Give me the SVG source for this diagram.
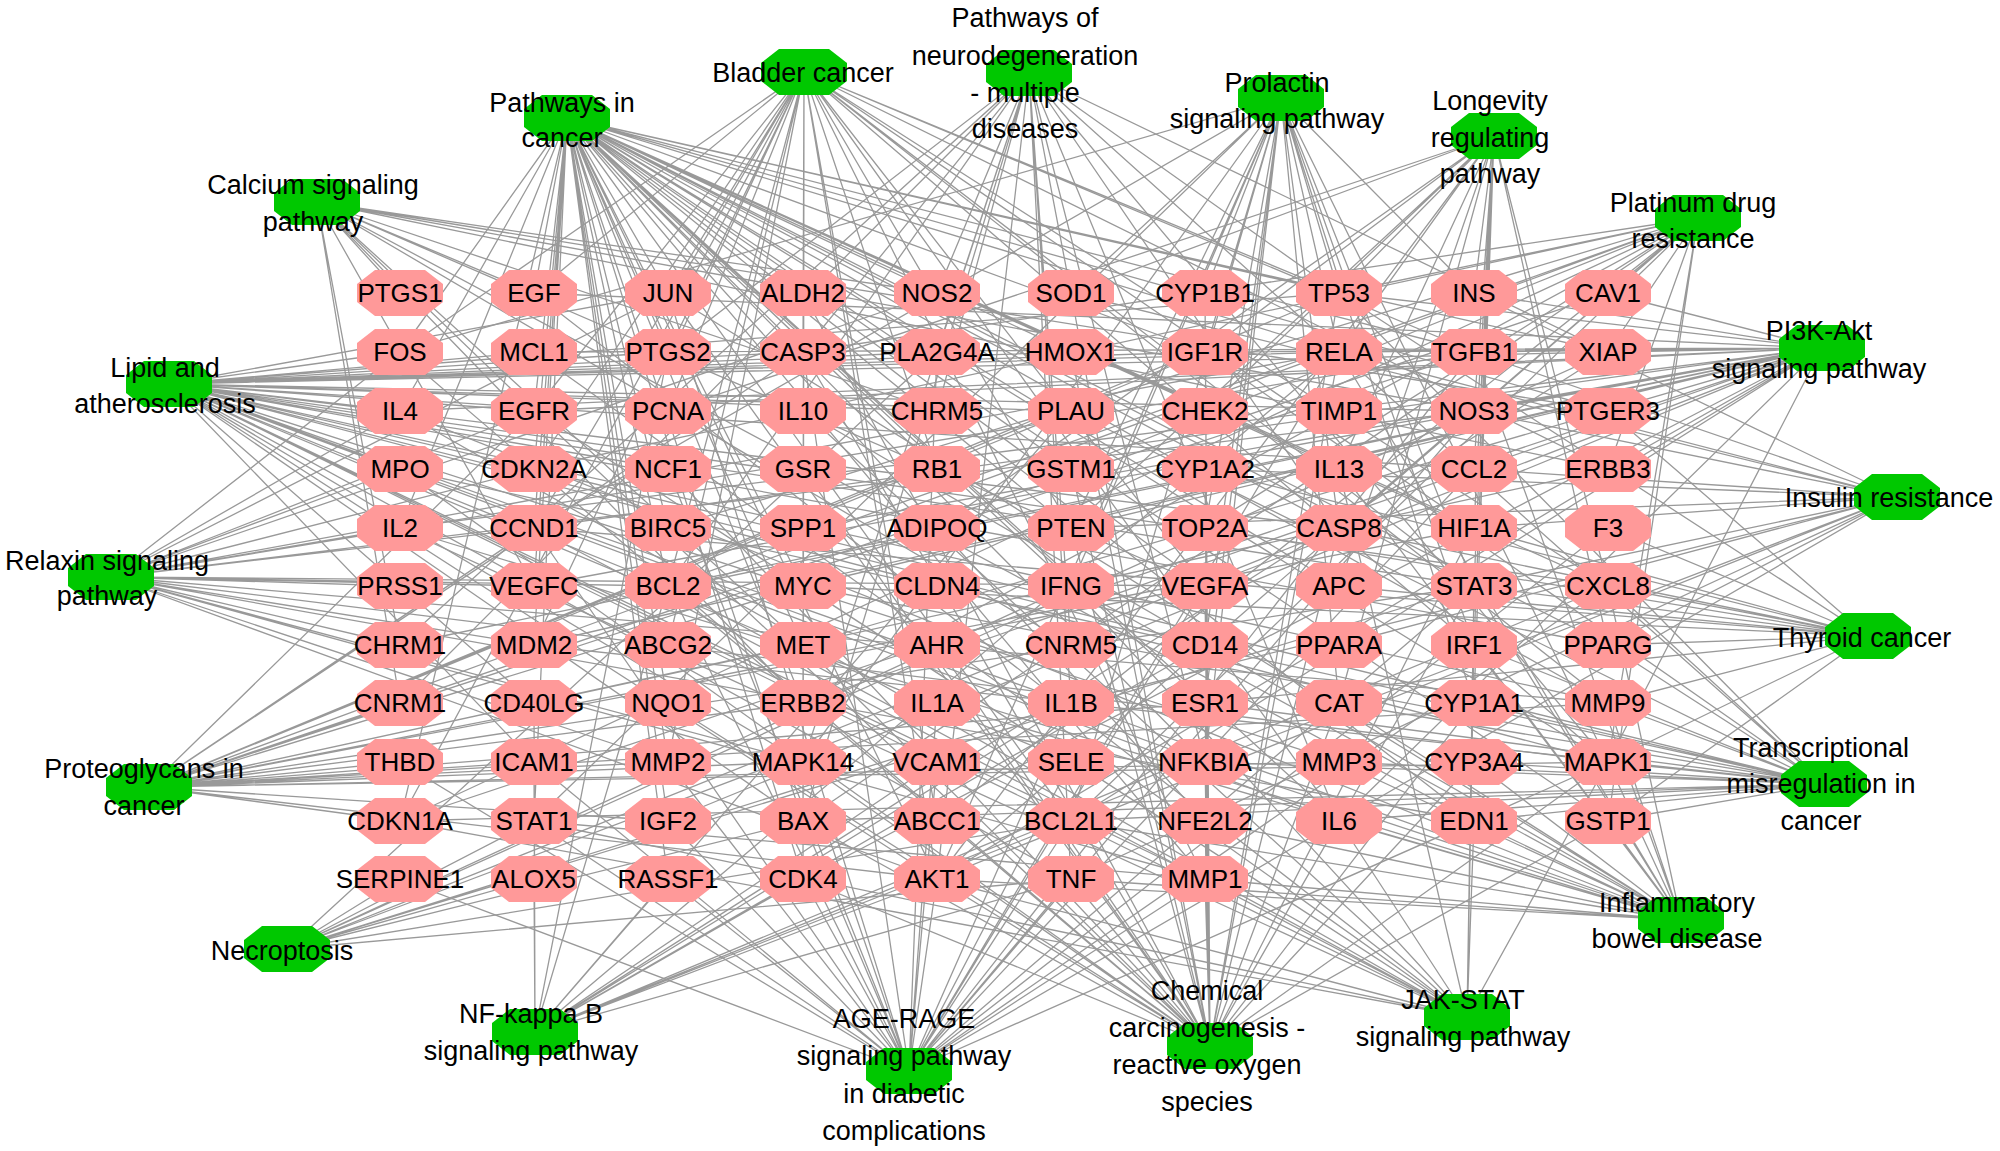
<svg xmlns="http://www.w3.org/2000/svg" xmlns:xlink="http://www.w3.org/1999/xlink" width="2000" height="1151" viewBox="0 0 2000 1151">
<style>
.g{fill:#ff9999}
.p{fill:#00c800}
text{font-family:"Liberation Sans",Arial,sans-serif;font-size:26px;text-anchor:middle;fill:#000}
text.pl{font-size:27px}
#edges path{stroke:#999;stroke-width:1.3;fill:none}
</style>
<defs>
<polygon id="oct" points="-25,-23 25,-23 43,-9 43,9 25,23 -25,23 -43,9 -43,-9"/>
</defs>
<rect width="2000" height="1151" fill="#fff"/>
<g id="edges">
<path id="e-blad" d="M804 72 534 293M804 72 534 411M804 72 803 703M804 72 803 586M804 72 534 528M804 72 803 879M804 72 937 469M804 72 1339 293M804 72 534 645M804 72 400 821M804 72 534 469M804 72 1608 762M804 72 1205 586M804 72 1205 879M804 72 668 762M804 72 1608 703M804 72 1608 586M804 72 668 411M804 72 668 586M804 72 803 821M804 72 803 352M804 72 1071 528M804 72 937 879M804 72 668 293M804 72 400 352M804 72 1474 586M804 72 1339 821M804 72 1474 528M804 72 1474 352M804 72 668 352M804 72 1608 469M804 72 668 645M804 72 937 821"/>
<path id="e-neuro" d="M1029 73 803 352M1029 73 1339 528M1029 73 803 821M1029 73 668 586M1029 73 1071 879M1029 73 1071 703M1029 73 1339 821M1029 73 1071 293M1029 73 668 352M1029 73 1339 293M1029 73 1339 352M1029 73 1205 762M1029 73 1608 762M1029 73 803 762M1029 73 937 879M1029 73 400 645M1029 73 937 411M1029 73 400 703M1029 73 1071 645M1029 73 1608 352M1029 73 937 293M1029 73 937 352"/>
<path id="e-prol" d="M1281 98 534 821M1281 98 1474 586M1281 98 1608 762M1281 98 803 762M1281 98 937 879M1281 98 534 528M1281 98 1205 703M1281 98 400 352M1281 98 1474 645M1281 98 1071 293M1281 98 1339 293M1281 98 1339 352M1281 98 1205 352M1281 98 1205 293M1281 98 1205 528M1281 98 1339 528M1281 98 1205 762M1281 98 1205 645M1281 98 1071 821M1281 98 1071 586M1281 98 1071 528M1281 98 1474 703M1281 98 1339 703M1281 98 1474 293"/>
<path id="e-long" d="M1494 136 1474 293M1494 136 1205 352M1494 136 937 879M1494 136 1071 293M1494 136 1339 703M1494 136 937 528M1494 136 1339 352M1494 136 1339 293M1494 136 1608 645M1494 136 1474 411M1494 136 1071 528M1494 136 1474 528M1494 136 1474 586M1494 136 1474 469M1494 136 1339 469M1494 136 1339 586M1494 136 1608 586M1494 136 1474 645M1494 136 1474 703M1494 136 1205 411M1494 136 668 411"/>
<path id="e-plat" d="M1698 218 1339 293M1698 218 400 821M1698 218 803 821M1698 218 668 586M1698 218 1071 821M1698 218 1608 352M1698 218 668 528M1698 218 803 352M1698 218 1339 528M1698 218 937 879M1698 218 1608 762M1698 218 803 703M1698 218 1071 469M1698 218 1608 821M1698 218 937 821M1698 218 1205 528M1698 218 534 645M1698 218 534 469M1698 218 1608 469M1698 218 1608 293"/>
<path id="e-pi3k" d="M1822 348 534 293M1822 348 534 411M1822 348 803 703M1822 348 1608 469M1822 348 1205 352M1822 348 668 821M1822 348 1474 293M1822 348 803 645M1822 348 1205 586M1822 348 534 586M1822 348 803 528M1822 348 937 879M1822 348 1071 528M1822 348 534 352M1822 348 668 586M1822 348 1071 821M1822 348 803 586M1822 348 534 528M1822 348 803 879M1822 348 400 821M1822 348 1339 293M1822 348 534 645M1822 348 1339 352M1822 348 400 528M1822 348 400 411M1822 348 1339 821M1822 348 1608 762M1822 348 1474 411M1822 348 400 645M1822 348 1608 293M1822 348 1608 352M1822 348 1474 352"/>
<path id="e-insr" d="M1897 497 1474 293M1897 497 1071 879M1897 497 1339 821M1897 497 937 879M1897 497 1071 528M1897 497 1339 352M1897 497 1205 762M1897 497 1474 586M1897 497 1474 411M1897 497 1339 645M1897 497 1608 645M1897 497 1474 528M1897 497 1474 469M1897 497 1474 352M1897 497 1071 703M1897 497 1205 469M1897 497 1071 293"/>
<path id="e-thyr" d="M1868 636 1608 645M1868 636 1339 293M1868 636 803 586M1868 636 534 528M1868 636 1608 762M1868 636 1608 586M1868 636 1608 528M1868 636 1474 586M1868 636 1608 703M1868 636 1339 586M1868 636 1339 528M1868 636 1474 528M1868 636 1608 411M1868 636 1205 469M1868 636 1205 703M1868 636 1205 528M1868 636 1608 821"/>
<path id="e-trans" d="M1824 784 803 586M1824 784 400 821M1824 784 534 469M1824 784 534 645M1824 784 1339 293M1824 784 1071 821M1824 784 1071 411M1824 784 1339 762M1824 784 1608 703M1824 784 1339 821M1824 784 1608 586M1824 784 1608 645M1824 784 1205 352M1824 784 803 821M1824 784 400 469M1824 784 1339 352M1824 784 1474 703M1824 784 1474 762M1824 784 1608 762M1824 784 1608 821M1824 784 1474 821M1824 784 1474 645M1824 784 1339 703M1824 784 1205 703M1824 784 1205 762"/>
<path id="e-ibd" d="M1681 920 400 528M1681 920 400 411M1681 920 1339 821M1681 920 803 411M1681 920 1339 469M1681 920 937 703M1681 920 1071 703M1681 920 1071 879M1681 920 1071 586M1681 920 1474 352M1681 920 534 821M1681 920 1474 586M1681 920 1339 352M1681 920 668 293M1681 920 1205 762M1681 920 1608 762M1681 920 1608 821M1681 920 1474 821M1681 920 1608 703M1681 920 1339 762M1681 920 1474 762M1681 920 1205 879M1681 920 1071 821M1681 920 937 879M1681 920 1205 821M1681 920 1474 645M1681 920 1339 703M1681 920 1608 586"/>
<path id="e-jak" d="M1467 1017 400 528M1467 1017 400 411M1467 1017 1339 821M1467 1017 803 411M1467 1017 1339 469M1467 1017 1071 586M1467 1017 534 821M1467 1017 1474 586M1467 1017 1474 645M1467 1017 803 586M1467 1017 534 528M1467 1017 668 586M1467 1017 1071 821M1467 1017 534 352M1467 1017 400 821M1467 1017 534 293M1467 1017 534 411M1467 1017 937 879M1467 1017 1608 762M1467 1017 1474 821"/>
<path id="e-chem" d="M1210 1046 1474 703M1210 1046 1205 469M1210 1046 1205 293M1210 1046 1474 762M1210 1046 937 645M1210 1046 668 703M1210 1046 1205 821M1210 1046 1071 352M1210 1046 1071 469M1210 1046 1608 821M1210 1046 1071 293M1210 1046 1339 703M1210 1046 668 469M1210 1046 1474 528M1210 1046 1205 586M1210 1046 534 411M1210 1046 1608 762M1210 1046 803 762M1210 1046 668 293M1210 1046 400 352M1210 1046 937 879M1210 1046 1071 528M1210 1046 1339 352M1210 1046 1205 762M1210 1046 1474 586M1210 1046 803 821M1210 1046 668 586M1210 1046 803 352M1210 1046 1339 528M1210 1046 1339 293M1210 1046 803 469M1210 1046 400 469M1210 1046 803 293M1210 1046 1205 703M1210 1046 1205 879M1210 1046 803 879M1210 1046 1071 879M1210 1046 1339 821M1210 1046 803 645"/>
<path id="e-age" d="M909 1071 937 703M909 1071 1071 703M909 1071 1339 821M909 1071 1071 879M909 1071 1608 586M909 1071 1474 469M909 1071 534 762M909 1071 937 762M909 1071 1071 762M909 1071 1205 586M909 1071 1474 352M909 1071 1474 411M909 1071 1474 821M909 1071 1608 528M909 1071 400 879M909 1071 668 293M909 1071 1608 762M909 1071 803 762M909 1071 937 879M909 1071 1339 352M909 1071 534 821M909 1071 1474 586M909 1071 803 821M909 1071 668 586M909 1071 803 352M909 1071 668 762M909 1071 534 528M909 1071 668 469M909 1071 400 762M909 1071 1205 879M909 1071 803 879M909 1071 937 352M909 1071 1071 821M909 1071 668 821M909 1071 668 879"/>
<path id="e-nfkb" d="M535 1032 1071 879M535 1032 1071 703M535 1032 1339 352M535 1032 1205 762M535 1032 668 586M535 1032 1071 821M535 1032 1608 352M535 1032 668 352M535 1032 534 762M535 1032 937 762M535 1032 1608 586M535 1032 1205 645M535 1032 534 703M535 1032 1071 411M535 1032 534 879M535 1032 668 879M535 1032 803 879M535 1032 937 879"/>
<path id="e-necro" d="M287 949 400 879M287 949 534 879M287 949 534 821M287 949 803 821M287 949 1071 821M287 949 1071 879M287 949 1071 703M287 949 937 703M287 949 1474 586M287 949 1071 586M287 949 1339 528M287 949 1608 352M287 949 937 352"/>
<path id="e-proteo" d="M149 787 534 411M149 787 803 703M149 787 1608 469M149 787 803 645M149 787 1205 352M149 787 668 821M149 787 1205 586M149 787 1474 352M149 787 803 586M149 787 400 821M149 787 803 352M149 787 1339 293M149 787 534 645M149 787 1071 411M149 787 1608 293M149 787 668 762M149 787 1608 703M149 787 1205 703M149 787 937 879M149 787 1608 762M149 787 803 762M149 787 1474 586M149 787 1474 528M149 787 534 528M149 787 400 762M149 787 400 703M149 787 534 762M149 787 1339 762"/>
<path id="e-relax" d="M111 577 534 411M111 577 937 293M111 577 1474 411M111 577 1205 879M111 577 668 762M111 577 1608 703M111 577 668 293M111 577 400 352M111 577 1608 762M111 577 803 762M111 577 937 879M111 577 1339 352M111 577 1474 352M111 577 1205 586M111 577 1474 821M111 577 534 586M111 577 400 586M111 577 400 528M111 577 400 645M111 577 400 469M111 577 400 411M111 577 668 586M111 577 534 469M111 577 534 528M111 577 534 645"/>
<path id="e-lipid" d="M169 384 1071 703M169 384 1339 821M169 384 1071 879M169 384 1608 586M169 384 1474 469M169 384 534 762M169 384 937 762M169 384 1071 762M169 384 1205 879M169 384 1339 762M169 384 1608 703M169 384 1205 762M169 384 1339 352M169 384 668 293M169 384 400 352M169 384 1608 762M169 384 803 762M169 384 937 879M169 384 803 352M169 384 1339 528M169 384 803 821M169 384 668 586M169 384 1071 821M169 384 1205 645M169 384 534 703M169 384 668 469M169 384 400 469M169 384 1474 411M169 384 1608 645M169 384 1474 586M169 384 1339 293M169 384 400 411M169 384 534 411M169 384 534 352M169 384 668 352M169 384 937 352M169 384 1071 352M169 384 1205 352M169 384 1608 352M169 384 937 411M169 384 1071 411M169 384 534 469"/>
<path id="e-calc" d="M317 202 400 645M317 202 937 411M317 202 937 293M317 202 1474 411M317 202 534 293M317 202 534 411M317 202 803 703M317 202 1608 469M317 202 1608 411M317 202 803 645M317 202 1205 586M317 202 534 586M317 202 1474 821M317 202 400 293M317 202 400 703M317 202 1071 645"/>
<path id="e-pic" d="M567 118 668 352M567 118 534 293M567 118 534 411M567 118 803 703M567 118 668 293M567 118 400 352M567 118 1339 293M567 118 534 645M567 118 400 821M567 118 534 469M567 118 937 469M567 118 534 528M567 118 803 879M567 118 803 586M567 118 668 586M567 118 1071 821M567 118 668 528M567 118 1608 352M567 118 803 352M567 118 1339 528M567 118 803 821M567 118 937 879M567 118 1071 528M567 118 1608 762M567 118 534 821M567 118 1474 586M567 118 1339 821M567 118 400 528M567 118 400 411M567 118 1339 469M567 118 1071 586M567 118 1205 586M567 118 534 586M567 118 1474 528M567 118 803 645M567 118 1205 352M567 118 668 821M567 118 1474 352M567 118 1205 762M567 118 1339 352M567 118 1205 879M567 118 668 762M567 118 1608 703M567 118 1608 586M567 118 1339 586M567 118 1205 703M567 118 1608 645M567 118 937 293M567 118 1071 352M567 118 668 703M567 118 1071 469M567 118 1608 821M567 118 1205 821M567 118 1608 411M567 118 668 879M567 118 1474 821"/>
</g>
<g id="pathways">
<g id="p-bladder"><use href="#oct" x="804" y="72" class="p"/><text class="pl" x="803" y="82">Bladder cancer</text></g>
<g id="p-neuro"><use href="#oct" x="1029" y="73" class="p"/><text class="pl"><tspan x="1025" y="27">Pathways of</tspan><tspan x="1025" y="65">neurodegeneration</tspan><tspan x="1025" y="102">- multiple</tspan><tspan x="1025" y="138">diseases</tspan></text></g>
<g id="p-prolactin"><use href="#oct" x="1281" y="98" class="p"/><text class="pl"><tspan x="1277" y="92">Prolactin</tspan><tspan x="1277" y="128">signaling pathway</tspan></text></g>
<g id="p-longevity"><use href="#oct" x="1494" y="136" class="p"/><text class="pl"><tspan x="1490" y="110">Longevity</tspan><tspan x="1490" y="147">regulating</tspan><tspan x="1490" y="183">pathway</tspan></text></g>
<g id="p-platinum"><use href="#oct" x="1698" y="218" class="p"/><text class="pl"><tspan x="1693" y="212">Platinum drug</tspan><tspan x="1693" y="248">resistance</tspan></text></g>
<g id="p-pi3k"><use href="#oct" x="1822" y="348" class="p"/><text class="pl"><tspan x="1819" y="340">PI3K-Akt</tspan><tspan x="1819" y="378">signaling pathway</tspan></text></g>
<g id="p-insulin"><use href="#oct" x="1897" y="497" class="p"/><text class="pl" x="1889" y="507">Insulin resistance</text></g>
<g id="p-thyroid"><use href="#oct" x="1868" y="636" class="p"/><text class="pl" x="1862" y="647">Thyroid cancer</text></g>
<g id="p-transcriptional"><use href="#oct" x="1824" y="784" class="p"/><text class="pl"><tspan x="1821" y="757">Transcriptional</tspan><tspan x="1821" y="793">misregulation in</tspan><tspan x="1821" y="830">cancer</tspan></text></g>
<g id="p-ibd"><use href="#oct" x="1681" y="920" class="p"/><text class="pl"><tspan x="1677" y="912">Inflammatory</tspan><tspan x="1677" y="948">bowel disease</tspan></text></g>
<g id="p-jakstat"><use href="#oct" x="1467" y="1017" class="p"/><text class="pl"><tspan x="1463" y="1009">JAK-STAT</tspan><tspan x="1463" y="1046">signaling pathway</tspan></text></g>
<g id="p-chemical"><use href="#oct" x="1210" y="1046" class="p"/><text class="pl"><tspan x="1207" y="1000">Chemical</tspan><tspan x="1207" y="1037">carcinogenesis -</tspan><tspan x="1207" y="1074">reactive oxygen</tspan><tspan x="1207" y="1111">species</tspan></text></g>
<g id="p-agerage"><use href="#oct" x="909" y="1071" class="p"/><text class="pl"><tspan x="904" y="1028">AGE-RAGE</tspan><tspan x="904" y="1065">signaling pathway</tspan><tspan x="904" y="1103">in diabetic</tspan><tspan x="904" y="1140">complications</tspan></text></g>
<g id="p-nfkb"><use href="#oct" x="535" y="1032" class="p"/><text class="pl"><tspan x="531" y="1023">NF-kappa B</tspan><tspan x="531" y="1060">signaling pathway</tspan></text></g>
<g id="p-necroptosis"><use href="#oct" x="287" y="949" class="p"/><text class="pl" x="282" y="960">Necroptosis</text></g>
<g id="p-proteoglycans"><use href="#oct" x="149" y="787" class="p"/><text class="pl"><tspan x="144" y="778">Proteoglycans in</tspan><tspan x="144" y="815">cancer</tspan></text></g>
<g id="p-relaxin"><use href="#oct" x="111" y="577" class="p"/><text class="pl"><tspan x="107" y="570">Relaxin signaling</tspan><tspan x="107" y="605">pathway</tspan></text></g>
<g id="p-lipid"><use href="#oct" x="169" y="384" class="p"/><text class="pl"><tspan x="165" y="377">Lipid and</tspan><tspan x="165" y="413">atherosclerosis</tspan></text></g>
<g id="p-calcium"><use href="#oct" x="317" y="202" class="p"/><text class="pl"><tspan x="313" y="194">Calcium signaling</tspan><tspan x="313" y="231">pathway</tspan></text></g>
<g id="p-cancer"><use href="#oct" x="567" y="118" class="p"/><text class="pl"><tspan x="562" y="112">Pathways in</tspan><tspan x="562" y="147">cancer</tspan></text></g>
</g>
<g id="genes">
<g id="PTGS1"><use href="#oct" x="400" y="293" class="g"/><text x="400" y="302">PTGS1</text></g>
<g id="EGF"><use href="#oct" x="534" y="293" class="g"/><text x="534" y="302">EGF</text></g>
<g id="JUN"><use href="#oct" x="668" y="293" class="g"/><text x="668" y="302">JUN</text></g>
<g id="ALDH2"><use href="#oct" x="803" y="293" class="g"/><text x="803" y="302">ALDH2</text></g>
<g id="NOS2"><use href="#oct" x="937" y="293" class="g"/><text x="937" y="302">NOS2</text></g>
<g id="SOD1"><use href="#oct" x="1071" y="293" class="g"/><text x="1071" y="302">SOD1</text></g>
<g id="CYP1B1"><use href="#oct" x="1205" y="293" class="g"/><text x="1205" y="302">CYP1B1</text></g>
<g id="TP53"><use href="#oct" x="1339" y="293" class="g"/><text x="1339" y="302">TP53</text></g>
<g id="INS"><use href="#oct" x="1474" y="293" class="g"/><text x="1474" y="302">INS</text></g>
<g id="CAV1"><use href="#oct" x="1608" y="293" class="g"/><text x="1608" y="302">CAV1</text></g>
<g id="FOS"><use href="#oct" x="400" y="352" class="g"/><text x="400" y="361">FOS</text></g>
<g id="MCL1"><use href="#oct" x="534" y="352" class="g"/><text x="534" y="361">MCL1</text></g>
<g id="PTGS2"><use href="#oct" x="668" y="352" class="g"/><text x="668" y="361">PTGS2</text></g>
<g id="CASP3"><use href="#oct" x="803" y="352" class="g"/><text x="803" y="361">CASP3</text></g>
<g id="PLA2G4A"><use href="#oct" x="937" y="352" class="g"/><text x="937" y="361">PLA2G4A</text></g>
<g id="HMOX1"><use href="#oct" x="1071" y="352" class="g"/><text x="1071" y="361">HMOX1</text></g>
<g id="IGF1R"><use href="#oct" x="1205" y="352" class="g"/><text x="1205" y="361">IGF1R</text></g>
<g id="RELA"><use href="#oct" x="1339" y="352" class="g"/><text x="1339" y="361">RELA</text></g>
<g id="TGFB1"><use href="#oct" x="1474" y="352" class="g"/><text x="1474" y="361">TGFB1</text></g>
<g id="XIAP"><use href="#oct" x="1608" y="352" class="g"/><text x="1608" y="361">XIAP</text></g>
<g id="IL4"><use href="#oct" x="400" y="411" class="g"/><text x="400" y="420">IL4</text></g>
<g id="EGFR"><use href="#oct" x="534" y="411" class="g"/><text x="534" y="420">EGFR</text></g>
<g id="PCNA"><use href="#oct" x="668" y="411" class="g"/><text x="668" y="420">PCNA</text></g>
<g id="IL10"><use href="#oct" x="803" y="411" class="g"/><text x="803" y="420">IL10</text></g>
<g id="CHRM5"><use href="#oct" x="937" y="411" class="g"/><text x="937" y="420">CHRM5</text></g>
<g id="PLAU"><use href="#oct" x="1071" y="411" class="g"/><text x="1071" y="420">PLAU</text></g>
<g id="CHEK2"><use href="#oct" x="1205" y="411" class="g"/><text x="1205" y="420">CHEK2</text></g>
<g id="TIMP1"><use href="#oct" x="1339" y="411" class="g"/><text x="1339" y="420">TIMP1</text></g>
<g id="NOS3"><use href="#oct" x="1474" y="411" class="g"/><text x="1474" y="420">NOS3</text></g>
<g id="PTGER3"><use href="#oct" x="1608" y="411" class="g"/><text x="1608" y="420">PTGER3</text></g>
<g id="MPO"><use href="#oct" x="400" y="469" class="g"/><text x="400" y="478">MPO</text></g>
<g id="CDKN2A"><use href="#oct" x="534" y="469" class="g"/><text x="534" y="478">CDKN2A</text></g>
<g id="NCF1"><use href="#oct" x="668" y="469" class="g"/><text x="668" y="478">NCF1</text></g>
<g id="GSR"><use href="#oct" x="803" y="469" class="g"/><text x="803" y="478">GSR</text></g>
<g id="RB1"><use href="#oct" x="937" y="469" class="g"/><text x="937" y="478">RB1</text></g>
<g id="GSTM1"><use href="#oct" x="1071" y="469" class="g"/><text x="1071" y="478">GSTM1</text></g>
<g id="CYP1A2"><use href="#oct" x="1205" y="469" class="g"/><text x="1205" y="478">CYP1A2</text></g>
<g id="IL13"><use href="#oct" x="1339" y="469" class="g"/><text x="1339" y="478">IL13</text></g>
<g id="CCL2"><use href="#oct" x="1474" y="469" class="g"/><text x="1474" y="478">CCL2</text></g>
<g id="ERBB3"><use href="#oct" x="1608" y="469" class="g"/><text x="1608" y="478">ERBB3</text></g>
<g id="IL2"><use href="#oct" x="400" y="528" class="g"/><text x="400" y="537">IL2</text></g>
<g id="CCND1"><use href="#oct" x="534" y="528" class="g"/><text x="534" y="537">CCND1</text></g>
<g id="BIRC5"><use href="#oct" x="668" y="528" class="g"/><text x="668" y="537">BIRC5</text></g>
<g id="SPP1"><use href="#oct" x="803" y="528" class="g"/><text x="803" y="537">SPP1</text></g>
<g id="ADIPOQ"><use href="#oct" x="937" y="528" class="g"/><text x="937" y="537">ADIPOQ</text></g>
<g id="PTEN"><use href="#oct" x="1071" y="528" class="g"/><text x="1071" y="537">PTEN</text></g>
<g id="TOP2A"><use href="#oct" x="1205" y="528" class="g"/><text x="1205" y="537">TOP2A</text></g>
<g id="CASP8"><use href="#oct" x="1339" y="528" class="g"/><text x="1339" y="537">CASP8</text></g>
<g id="HIF1A"><use href="#oct" x="1474" y="528" class="g"/><text x="1474" y="537">HIF1A</text></g>
<g id="F3"><use href="#oct" x="1608" y="528" class="g"/><text x="1608" y="537">F3</text></g>
<g id="PRSS1"><use href="#oct" x="400" y="586" class="g"/><text x="400" y="595">PRSS1</text></g>
<g id="VEGFC"><use href="#oct" x="534" y="586" class="g"/><text x="534" y="595">VEGFC</text></g>
<g id="BCL2"><use href="#oct" x="668" y="586" class="g"/><text x="668" y="595">BCL2</text></g>
<g id="MYC"><use href="#oct" x="803" y="586" class="g"/><text x="803" y="595">MYC</text></g>
<g id="CLDN4"><use href="#oct" x="937" y="586" class="g"/><text x="937" y="595">CLDN4</text></g>
<g id="IFNG"><use href="#oct" x="1071" y="586" class="g"/><text x="1071" y="595">IFNG</text></g>
<g id="VEGFA"><use href="#oct" x="1205" y="586" class="g"/><text x="1205" y="595">VEGFA</text></g>
<g id="APC"><use href="#oct" x="1339" y="586" class="g"/><text x="1339" y="595">APC</text></g>
<g id="STAT3"><use href="#oct" x="1474" y="586" class="g"/><text x="1474" y="595">STAT3</text></g>
<g id="CXCL8"><use href="#oct" x="1608" y="586" class="g"/><text x="1608" y="595">CXCL8</text></g>
<g id="CHRM1"><use href="#oct" x="400" y="645" class="g"/><text x="400" y="654">CHRM1</text></g>
<g id="MDM2"><use href="#oct" x="534" y="645" class="g"/><text x="534" y="654">MDM2</text></g>
<g id="ABCG2"><use href="#oct" x="668" y="645" class="g"/><text x="668" y="654">ABCG2</text></g>
<g id="MET"><use href="#oct" x="803" y="645" class="g"/><text x="803" y="654">MET</text></g>
<g id="AHR"><use href="#oct" x="937" y="645" class="g"/><text x="937" y="654">AHR</text></g>
<g id="CNRM5"><use href="#oct" x="1071" y="645" class="g"/><text x="1071" y="654">CNRM5</text></g>
<g id="CD14"><use href="#oct" x="1205" y="645" class="g"/><text x="1205" y="654">CD14</text></g>
<g id="PPARA"><use href="#oct" x="1339" y="645" class="g"/><text x="1339" y="654">PPARA</text></g>
<g id="IRF1"><use href="#oct" x="1474" y="645" class="g"/><text x="1474" y="654">IRF1</text></g>
<g id="PPARG"><use href="#oct" x="1608" y="645" class="g"/><text x="1608" y="654">PPARG</text></g>
<g id="CNRM1"><use href="#oct" x="400" y="703" class="g"/><text x="400" y="712">CNRM1</text></g>
<g id="CD40LG"><use href="#oct" x="534" y="703" class="g"/><text x="534" y="712">CD40LG</text></g>
<g id="NQO1"><use href="#oct" x="668" y="703" class="g"/><text x="668" y="712">NQO1</text></g>
<g id="ERBB2"><use href="#oct" x="803" y="703" class="g"/><text x="803" y="712">ERBB2</text></g>
<g id="IL1A"><use href="#oct" x="937" y="703" class="g"/><text x="937" y="712">IL1A</text></g>
<g id="IL1B"><use href="#oct" x="1071" y="703" class="g"/><text x="1071" y="712">IL1B</text></g>
<g id="ESR1"><use href="#oct" x="1205" y="703" class="g"/><text x="1205" y="712">ESR1</text></g>
<g id="CAT"><use href="#oct" x="1339" y="703" class="g"/><text x="1339" y="712">CAT</text></g>
<g id="CYP1A1"><use href="#oct" x="1474" y="703" class="g"/><text x="1474" y="712">CYP1A1</text></g>
<g id="MMP9"><use href="#oct" x="1608" y="703" class="g"/><text x="1608" y="712">MMP9</text></g>
<g id="THBD"><use href="#oct" x="400" y="762" class="g"/><text x="400" y="771">THBD</text></g>
<g id="ICAM1"><use href="#oct" x="534" y="762" class="g"/><text x="534" y="771">ICAM1</text></g>
<g id="MMP2"><use href="#oct" x="668" y="762" class="g"/><text x="668" y="771">MMP2</text></g>
<g id="MAPK14"><use href="#oct" x="803" y="762" class="g"/><text x="803" y="771">MAPK14</text></g>
<g id="VCAM1"><use href="#oct" x="937" y="762" class="g"/><text x="937" y="771">VCAM1</text></g>
<g id="SELE"><use href="#oct" x="1071" y="762" class="g"/><text x="1071" y="771">SELE</text></g>
<g id="NFKBIA"><use href="#oct" x="1205" y="762" class="g"/><text x="1205" y="771">NFKBIA</text></g>
<g id="MMP3"><use href="#oct" x="1339" y="762" class="g"/><text x="1339" y="771">MMP3</text></g>
<g id="CYP3A4"><use href="#oct" x="1474" y="762" class="g"/><text x="1474" y="771">CYP3A4</text></g>
<g id="MAPK1"><use href="#oct" x="1608" y="762" class="g"/><text x="1608" y="771">MAPK1</text></g>
<g id="CDKN1A"><use href="#oct" x="400" y="821" class="g"/><text x="400" y="830">CDKN1A</text></g>
<g id="STAT1"><use href="#oct" x="534" y="821" class="g"/><text x="534" y="830">STAT1</text></g>
<g id="IGF2"><use href="#oct" x="668" y="821" class="g"/><text x="668" y="830">IGF2</text></g>
<g id="BAX"><use href="#oct" x="803" y="821" class="g"/><text x="803" y="830">BAX</text></g>
<g id="ABCC1"><use href="#oct" x="937" y="821" class="g"/><text x="937" y="830">ABCC1</text></g>
<g id="BCL2L1"><use href="#oct" x="1071" y="821" class="g"/><text x="1071" y="830">BCL2L1</text></g>
<g id="NFE2L2"><use href="#oct" x="1205" y="821" class="g"/><text x="1205" y="830">NFE2L2</text></g>
<g id="IL6"><use href="#oct" x="1339" y="821" class="g"/><text x="1339" y="830">IL6</text></g>
<g id="EDN1"><use href="#oct" x="1474" y="821" class="g"/><text x="1474" y="830">EDN1</text></g>
<g id="GSTP1"><use href="#oct" x="1608" y="821" class="g"/><text x="1608" y="830">GSTP1</text></g>
<g id="SERPINE1"><use href="#oct" x="400" y="879" class="g"/><text x="400" y="888">SERPINE1</text></g>
<g id="ALOX5"><use href="#oct" x="534" y="879" class="g"/><text x="534" y="888">ALOX5</text></g>
<g id="RASSF1"><use href="#oct" x="668" y="879" class="g"/><text x="668" y="888">RASSF1</text></g>
<g id="CDK4"><use href="#oct" x="803" y="879" class="g"/><text x="803" y="888">CDK4</text></g>
<g id="AKT1"><use href="#oct" x="937" y="879" class="g"/><text x="937" y="888">AKT1</text></g>
<g id="TNF"><use href="#oct" x="1071" y="879" class="g"/><text x="1071" y="888">TNF</text></g>
<g id="MMP1"><use href="#oct" x="1205" y="879" class="g"/><text x="1205" y="888">MMP1</text></g>
</g>
</svg>
